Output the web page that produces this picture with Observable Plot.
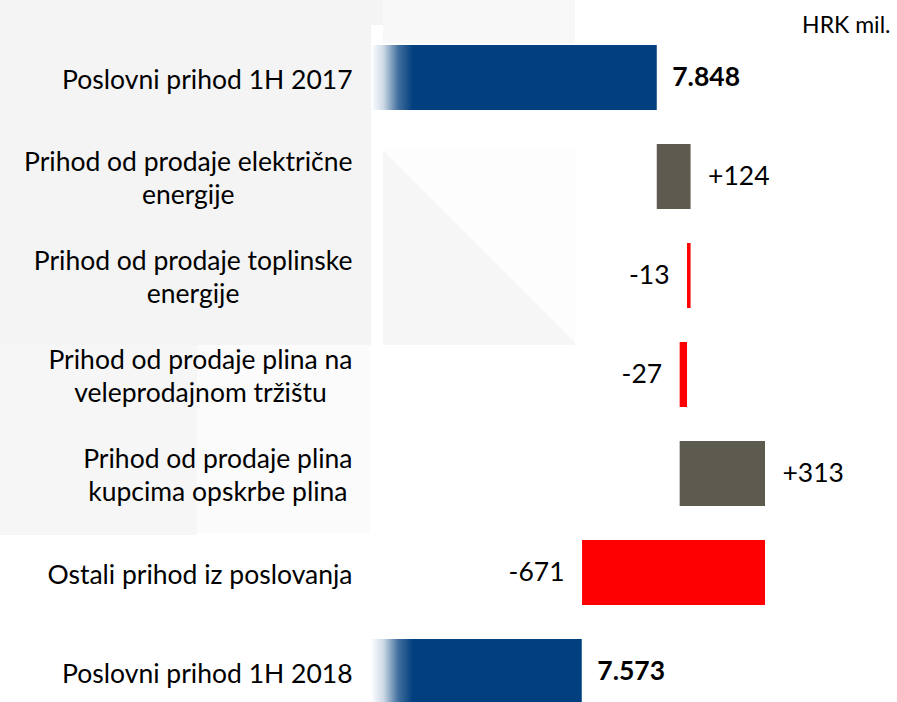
<!DOCTYPE html>
<html><head><meta charset="utf-8">
<script src="https://cdn.jsdelivr.net/npm/d3@7"></script>
<script src="https://cdn.jsdelivr.net/npm/@observablehq/plot@0.6"></script>
<style>
html,body{margin:0;padding:0;background:#fff;overflow:hidden;width:897px;height:702px}
#wrap{position:relative;width:897px;height:702px}
.bg{position:absolute}
#chart{position:absolute;left:0;top:0}
</style></head><body>
<div id="wrap">
  <div class="bg" style="left:0;top:0;width:371px;height:345px;background:#f4f4f4"></div>
  <div class="bg" style="left:371px;top:0;width:12px;height:25px;background:#f4f4f4"></div>
  <div class="bg" style="left:383px;top:0;width:192px;height:43px;background:#f8f8f8"></div>
  <div class="bg" style="left:0;top:345px;width:197px;height:190px;background:#f6f6f6"></div>
  <div class="bg" style="left:197px;top:345px;width:173px;height:188px;background:#fbfbfb"></div>
  <div class="bg" style="left:383px;top:148px;width:192px;height:197px;background:linear-gradient(225deg,#fdfdfd 50%,#f6f6f6 50%)"></div>
  <div id="chart"></div>
</div>
<script>
const categories = [
  "Poslovni prihod 1H 2017",
  "Prihod od prodaje električne\nenergije",
  "Prihod od prodaje toplinske\nenergije",
  "Prihod od prodaje plina na\nveleprodajnom tržištu",
  "Prihod od prodaje plina\nkupcima opskrbe plina",
  "Ostali prihod iz poslovanja",
  "Poslovni prihod 1H 2018"
];
const values = [7848, 124, -13, -27, 313, -671, 7573];
const kinds = ["total", "delta", "delta", "delta", "delta", "delta", "total"];
const valueLabels = ["7.848", "+124", "-13", "-27", "+313", "-671", "7.573"];
const unitLabel = "HRK mil.";
const axisMin = 6800;

const FONT = "Lato";
const FS = 26.5;
const BLUE = "#013f7e", GREY = "#5d5b4f", RED = "#ff0000";

let run = 0;
const rows = categories.map((c, i) => {
  const v = values[i];
  let x1, x2;
  if (kinds[i] === "total") { x1 = axisMin; x2 = v; run = v; }
  else { x1 = run; x2 = run + v; run = x2; }
  return {cat: c, v, kind: kinds[i], x1, x2, lo: Math.min(x1, x2), hi: Math.max(x1, x2), label: valueLabels[i]};
});
const totals = rows.filter(d => d.kind === "total");
const ups = rows.filter(d => d.kind === "delta" && d.v >= 0);
const downs = rows.filter(d => d.kind === "delta" && d.v < 0);

const ctx = document.createElement("canvas").getContext("2d");
ctx.font = `${FS}px ${FONT}`;
const blockWidth = s => Math.max(...s.split("\n").map(l => ctx.measureText(l).width));
const labelRight = 352;

const gradientDefs = (index, scales) => {
  const x0 = scales.x(axisMin);
  const defs = d3.create("svg:defs");
  const g = defs.append("linearGradient").attr("id", "blueFade")
    .attr("gradientUnits", "userSpaceOnUse")
    .attr("x1", x0).attr("x2", x0 + 42).attr("y1", 0).attr("y2", 0);
  [[0, 0], [0.3, 0.2], [0.65, 0.75], [1, 1]].forEach(([o, a]) =>
    g.append("stop").attr("offset", o).attr("stop-color", BLUE).attr("stop-opacity", a));
  return defs.node();
};

const chart = Plot.plot({
  width: 897,
  height: 702,
  margin: 0,
  style: {background: "transparent", overflow: "visible"},
  x: {domain: [axisMin, 8000], range: [371, 698.2], axis: null},
  y: {domain: categories, range: [26.2, 724.1], paddingInner: 0.34, paddingOuter: 0.17, axis: null},
  marks: [
    gradientDefs,
    Plot.barX(totals, {x1: "x1", x2: "x2", y: "cat", fill: "url(#blueFade)"}),
    Plot.barX(ups, {x1: "x1", x2: "x2", y: "cat", fill: GREY}),
    Plot.barX(downs, {x1: "x1", x2: "x2", y: "cat", fill: RED}),
    ...rows.map(r => Plot.text([r], {
      y: "cat", text: "cat", frameAnchor: "left", textAnchor: "middle",
      dx: labelRight - blockWidth(r.cat) / 2, lineHeight: 33 / FS,
      fontSize: FS, fontFamily: FONT, fill: "#000"
    })),
    Plot.text(totals, {x: "hi", y: "cat", text: "label", textAnchor: "start", dx: 15,
      fontSize: FS, fontFamily: FONT, fontWeight: "bold", fill: "#000"}),
    Plot.text(ups, {x: "hi", y: "cat", text: "label", textAnchor: "start", dx: 17,
      fontSize: FS, fontFamily: FONT, fill: "#000"}),
    Plot.text(downs, {x: "lo", y: "cat", text: "label", textAnchor: "end", dx: -18,
      fontSize: FS, fontFamily: FONT, fill: "#000"}),
    Plot.text([unitLabel], {frameAnchor: "top-right", textAnchor: "end", lineAnchor: "middle",
      dx: -7, dy: 25, fontSize: 23, fontFamily: FONT, fill: "#000"})
  ]
});
document.getElementById("chart").appendChild(chart);
</script>
</body></html>
